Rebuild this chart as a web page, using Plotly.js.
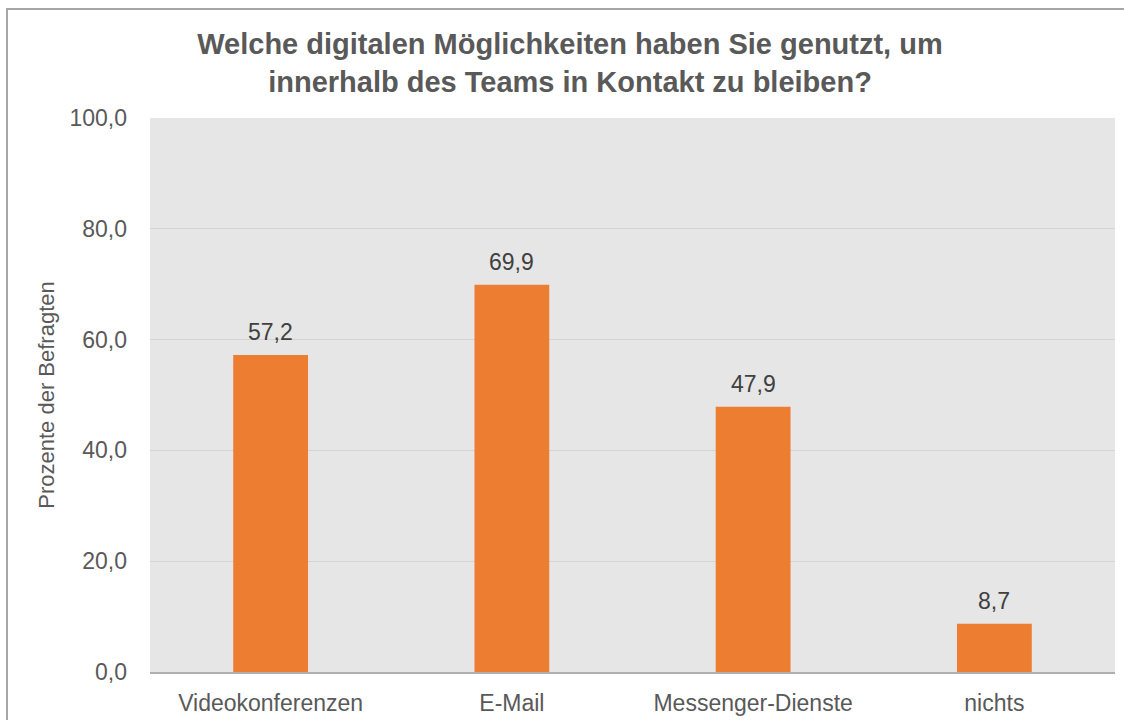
<!DOCTYPE html>
<html>
<head>
<meta charset="utf-8">
<script src="https://cdn.plot.ly/plotly-3.0.1.min.js"></script>
<style>
  html, body { margin: 0; padding: 0; background: #ffffff; }
  #chart { width: 1124px; height: 720px; }
</style>
</head>
<body>
<div id="chart"></div>
<script>
const categories = ["Videokonferenzen", "E-Mail", "Messenger-Dienste", "nichts"];
const values = [57.2, 69.9, 47.9, 8.7];
const titleText = "Welche digitalen Möglichkeiten haben Sie genutzt, um<br>innerhalb des Teams in Kontakt zu bleiben?";
const yTitle = "Prozente der Befragten";
const yTicks = [0, 20, 40, 60, 80, 100];
const yTickLabels = ["0,0", "20,0", "40,0", "60,0", "80,0", "100,0"];

const W = 1124, H = 720;
const M = {l: 150, r: 9, t: 118, b: 48};
const pw = W - M.l - M.r, ph = H - M.t - M.b;
const px = (x) => (x - M.l) / pw;
const py = (y) => (H - M.b - y) / ph;

const font = "Liberation Sans, Arial, sans-serif";
const fmt = (v) => v.toFixed(1).replace(".", ",");

const trace = {
  type: "bar",
  x: categories,
  y: values,
  marker: {color: "#ED7D31", line: {width: 0}},
  hoverinfo: "skip"
};

const labels = categories.map((c, i) => ({
  x: c, y: values[i], xref: "x", yref: "y",
  text: fmt(values[i]),
  showarrow: false,
  yanchor: "bottom",
  yshift: 8,
  font: {family: font, size: 23, color: "#404040"}
}));

const layout = {
  width: W, height: H,
  margin: M,
  separators: ",.",
  paper_bgcolor: "#ffffff",
  plot_bgcolor: "#e6e6e6",
  showlegend: false,
  bargap: 0.69,
  font: {family: font, color: "#595959"},
  title: {
    text: titleText,
    font: {family: font, size: 29, color: "#595959", weight: "bold"},
    x: 570 / W, xanchor: "center", xref: "container",
    y: 1 - 54 / H, yanchor: "middle", yref: "container"
  },
  xaxis: {
    type: "category",
    showgrid: false,
    showline: true,
    linecolor: "#b0b0b0",
    linewidth: 1.5,
    ticks: "",
    ticklabelstandoff: 10,
    tickfont: {family: font, size: 23, color: "#595959"},
    fixedrange: true
  },
  yaxis: {
    range: [0, 100],
    tickvals: yTicks,
    ticktext: yTickLabels,
    showgrid: true,
    gridcolor: "#d4d4d4",
    gridwidth: 1,
    zeroline: false,
    showline: false,
    ticks: "",
    ticklabelstandoff: 22,
    tickfont: {family: font, size: 23, color: "#595959"},
    title: {text: yTitle, font: {family: font, size: 22, color: "#595959"}, standoff: 8},
    fixedrange: true
  },
  annotations: labels,
  shapes: [
    {
      type: "rect", xref: "paper", yref: "paper",
      x0: px(7), x1: px(1140), y0: py(740), y1: py(9),
      line: {color: "#a6a6a6", width: 2},
      fillcolor: "rgba(0,0,0,0)",
      layer: "below"
    }
  ]
};

Plotly.newPlot("chart", [trace], layout, {displayModeBar: false, staticPlot: true});
</script>
</body>
</html>
